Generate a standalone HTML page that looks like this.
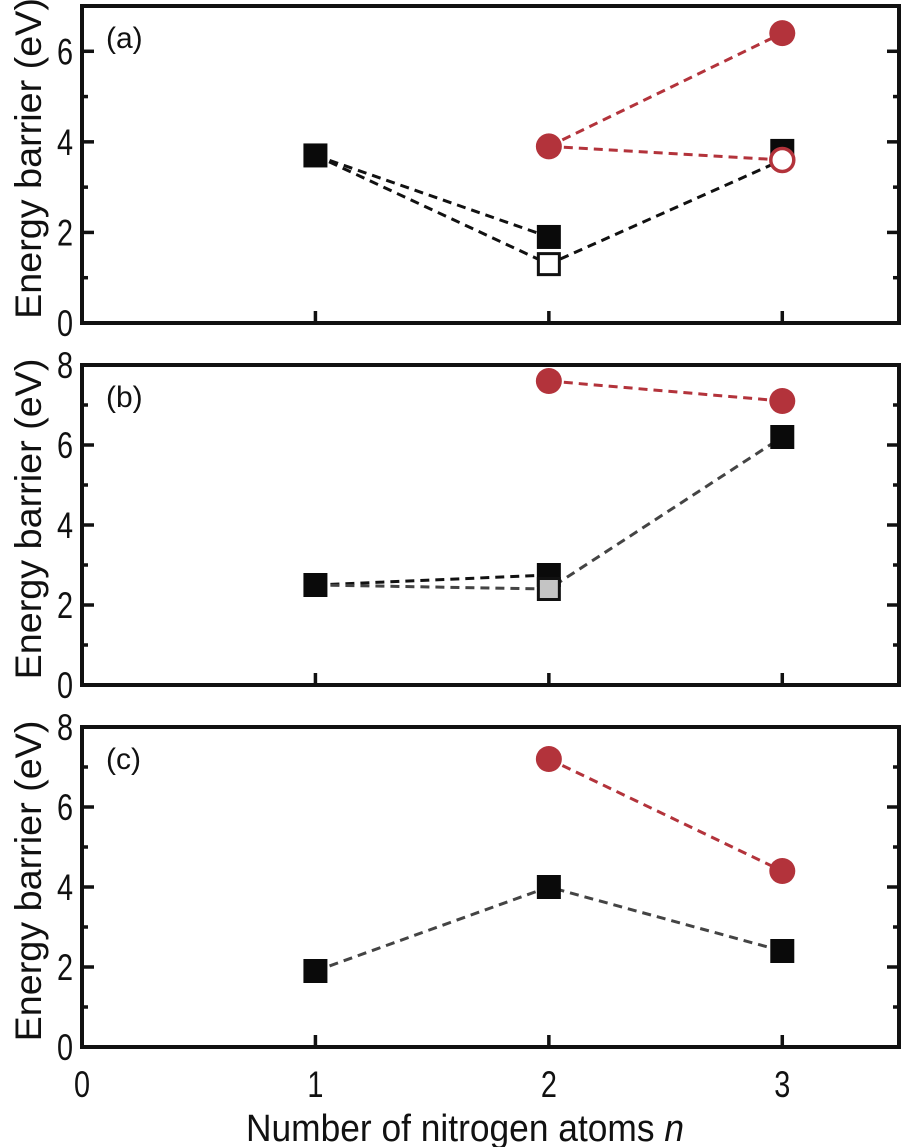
<!DOCTYPE html>
<html><head><meta charset="utf-8"><style>
html,body{margin:0;padding:0;background:#fff;}
svg{display:block;font-family:"Liberation Sans",sans-serif;}
</style></head><body>
<svg id="chart" width="902" height="1147" viewBox="0 0 902 1147"></svg>
<script>
const xTicks=[0,1,2,3];
const panelLabels=['(a)','(b)','(c)'];
const panelYMax=[7,8,8];
const panelYTicks=[[0,2,4,6],[0,2,4,6,8],[0,2,4,6,8]];
// panel a
const aN=[1,2,3];
const aBlack=[3.7,1.9,3.8];
const aOpenN=[1,2,3];
const aOpen=[3.7,1.3,3.6];
const aRedN=[2,3];
const aRed=[3.9,6.4];
const aRedOpenN=[2,3];
const aRedOpen=[3.9,3.6];
// panel b
const bN=[1,2,3];
const bBlack=[2.5,2.75,6.2];
const bGrayN=[1,2,3];
const bGray=[2.5,2.4,6.2];
const bRedN=[2,3];
const bRed=[7.6,7.1];
// panel c
const cN=[1,2,3];
const cBlack=[1.9,4.0,2.4];
const cRedN=[2,3];
const cRed=[7.2,4.4];

const NS='http://www.w3.org/2000/svg';
const svg=document.getElementById('chart');
const X0=82,X1=899,XMAX=3.5;
const panelTops=[6,365,727],panelBottoms=[323,685,1047];
function sx(v){return X0+(X1-X0)*v/XMAX;}
function mk(tag,attrs,parent){const e=document.createElementNS(NS,tag);for(const k in attrs)e.setAttribute(k,attrs[k]);(parent||svg).appendChild(e);return e;}
const RED='#b3333b';
function panel(i){
  const g=mk('g',{});
  
  
  const top=panelTops[i],bot=panelBottoms[i],ymax=panelYMax[i];
  const sy=v=>bot-(bot-top)*v/ymax;
  for(let v=0;v<=ymax;v++){
    const major=v%2===0,len=major?12:6;
    if(v===0||v===ymax) continue;
    const t1=mk('line',{x1:X0,x2:X0+len,y1:sy(v),y2:sy(v),stroke:'#111','stroke-width':3.5},g);
    
    
    const t2=mk('line',{x1:X1-len,x2:X1,y1:sy(v),y2:sy(v),stroke:'#111','stroke-width':3.5},g);
    
    
  }
  panelYTicks[i].forEach(v=>{
    const t=mk('text',{x:0,y:0,'text-anchor':'end','font-size':37,fill:'#111',transform:`translate(${X0-9},${sy(v)+13}) scale(0.78,1)`},g);
    t.textContent=v;
    
    
  });
  xTicks.forEach(v=>{ if(v===0)return;
    const t=mk('line',{x1:sx(v),x2:sx(v),y1:bot,y2:bot-12,stroke:'#111','stroke-width':3.5},g);
    
    
  });
  const frame=mk('rect',{x:X0,y:top,width:X1-X0,height:bot-top,fill:'none',stroke:'#111','stroke-width':4},g);
  
  
  const lab=mk('text',{x:106,y:top+42,'font-size':30,fill:'#111'},g);
  lab.textContent=panelLabels[i];
  
  
  const yl=mk('text',{x:0,y:0,'font-size':37,fill:'#111','text-anchor':'middle',transform:`translate(41,${(top+bot)/2-6}) rotate(-90) scale(1.02,1)`},g);
  yl.textContent='Energy barrier (eV)';
  
  
  return {g,sy};
}
function line(g,sy,ns,vs,color,name){
  const pts=ns.map((n,k)=>sx(n)+','+sy(vs[k])).join(' ');
  const p=mk('polyline',{points:pts,fill:'none',stroke:color,'stroke-width':3,'stroke-dasharray':'9,6'},g);
  
  
}
function squares(g,sy,ns,vs,fill,stroke,name){
  ns.forEach((n,k)=>{
    const r=mk('rect',{x:sx(n)-10.5,y:sy(vs[k])-10.5,width:21,height:21,fill:fill,stroke:stroke,'stroke-width':3},g);
    
    
  });
}
function circles(g,sy,ns,vs,fill,name){
  ns.forEach((n,k)=>{
    const c=mk('circle',{cx:sx(n),cy:sy(vs[k]),r:fill==='#fff'?11.5:13,fill:fill,stroke:RED,'stroke-width':fill==='#fff'?3.5:0},g);
    
    
  });
}
let P=panel(0);
line(P.g,P.sy,aN.slice(0,2),aBlack.slice(0,2),'#111','line-a-black');
line(P.g,P.sy,aOpenN,aOpen,'#111','line-a-open');
line(P.g,P.sy,aRedN,aRed,RED,'line-a-red');
line(P.g,P.sy,aRedOpenN,aRedOpen,RED,'line-a-red-open');
squares(P.g,P.sy,aN,aBlack,'#0a0a0a','#0a0a0a','point-a-black-square');
squares(P.g,P.sy,aOpenN.slice(1,2),aOpen.slice(1,2),'#fff','#111','point-a-open-square');
circles(P.g,P.sy,aRedN,aRed,RED,'point-a-red-circle');
circles(P.g,P.sy,aRedOpenN.slice(1),aRedOpen.slice(1),'#fff','point-a-red-open-circle');
P=panel(1);
line(P.g,P.sy,bN.slice(0,2),bBlack.slice(0,2),'#111','line-b-black');
line(P.g,P.sy,bGrayN,bGray,'#444','line-b-gray');
line(P.g,P.sy,bRedN,bRed,RED,'line-b-red');
squares(P.g,P.sy,bN,bBlack,'#0a0a0a','#0a0a0a','point-b-black-square');
squares(P.g,P.sy,bGrayN.slice(1,2),bGray.slice(1,2),'#c4c4c4','#111','point-b-gray-square');
circles(P.g,P.sy,bRedN,bRed,RED,'point-b-red-circle');
P=panel(2);
line(P.g,P.sy,cN,cBlack,'#444','line-c-black');
line(P.g,P.sy,cRedN,cRed,RED,'line-c-red');
squares(P.g,P.sy,cN,cBlack,'#0a0a0a','#0a0a0a','point-c-black-square');
circles(P.g,P.sy,cRedN,cRed,RED,'point-c-red-circle');
xTicks.forEach(v=>{
  const t=mk('text',{x:0,y:0,'text-anchor':'middle','font-size':37,fill:'#111',transform:`translate(${sx(v)},1097) scale(0.78,1)`});
  t.textContent=v;
  
  
});
const xl=mk('text',{x:0,y:0,'text-anchor':'middle','font-size':38,fill:'#111',transform:'translate(465,1141) scale(0.93,1)'});
xl.innerHTML='Number of nitrogen atoms <tspan font-style="italic">n</tspan>';


</script>
</body></html>
